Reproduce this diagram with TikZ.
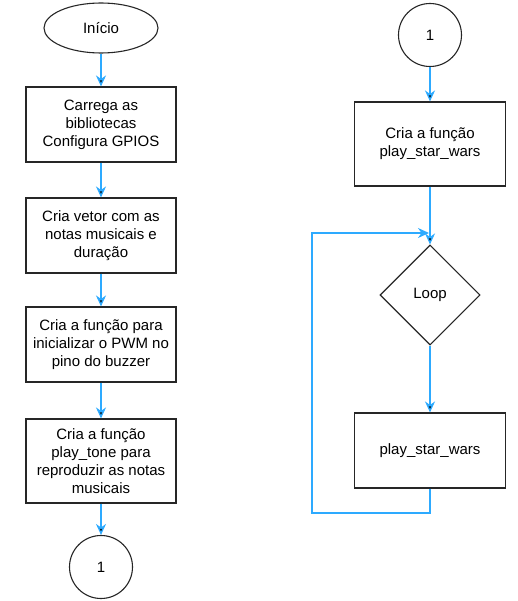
\documentclass[tikz,border=0pt]{standalone}
\usepackage{fontspec}
\setmainfont{Liberation Sans}
\usetikzlibrary{shapes.geometric,arrows.meta}
\definecolor{flowblue}{RGB}{45,170,255}

\begin{document}
\begin{tikzpicture}[x=1pt,y=-1pt,
  base node/.style={draw=black!85,line width=1.1pt,align=center,inner sep=2pt,
    font=\fontsize{15}{18}\selectfont},
  process/.style={base node,rectangle,minimum width=150pt,minimum height=75pt},
  terminal/.style={base node,ellipse,minimum width=114pt,minimum height=50pt},
  connector/.style={base node,circle,minimum size=63pt},
  decision/.style={base node,diamond,aspect=1,inner sep=0pt,minimum width=100pt,minimum height=100pt},
  flow/.style={draw=flowblue,line width=1.4pt,-{Stealth[length=11pt,width=10pt,inset=3.5pt]}}]

  \useasboundingbox (0,0) rectangle (517,601);

  \node[terminal] (inicio) at (101,28) {Início};
  \node[process] (carrega) at (101,124.5) {Carrega as\\bibliotecas\\Configura GPIOS};
  \node[process] (vetor) at (101,235.5) {Cria vetor com as\\notas musicais e\\duração};
  \node[process] (pwm) at (101,344.5) {Cria a função para\\inicializar o PWM no\\pino do buzzer};
  \node[process,minimum height=84pt] (tone) at (101,461) {Cria a função\\play\_tone para\\reproduzir as notas\\musicais};
  \node[connector] (cona) at (101,567) {1};

  \node[connector] (conb) at (430,35) {1};
  \node[process,minimum width=151pt,minimum height=84pt] (funcao) at (430,144) {Cria a função\\play\_star\_wars};
  \node[decision] (loop) at (430,295) {Loop};
  \node[process,minimum width=151pt] (play) at (430,450.5) {play\_star\_wars};
  \coordinate (back bl) at (312,513);
  \coordinate (back tl) at (312,233);
  \coordinate (back tr) at (429,233);

 \path[] (inicio) [flow] edge (carrega);
 \path[] (carrega) [flow] edge (vetor);
 \path[] (vetor) [flow] edge (pwm);
 \path[] (pwm) [flow] edge (tone);
 \path[] (tone) [flow] edge (cona);
 \path[] (conb) [flow] edge (funcao);
 \path[] (funcao) [flow] edge (loop);
 \path[] (loop) [flow] edge (play);
 \draw[flow] (play.south) |- (back bl) -- (back tl) -- (back tr);
\end{tikzpicture}
\end{document}
